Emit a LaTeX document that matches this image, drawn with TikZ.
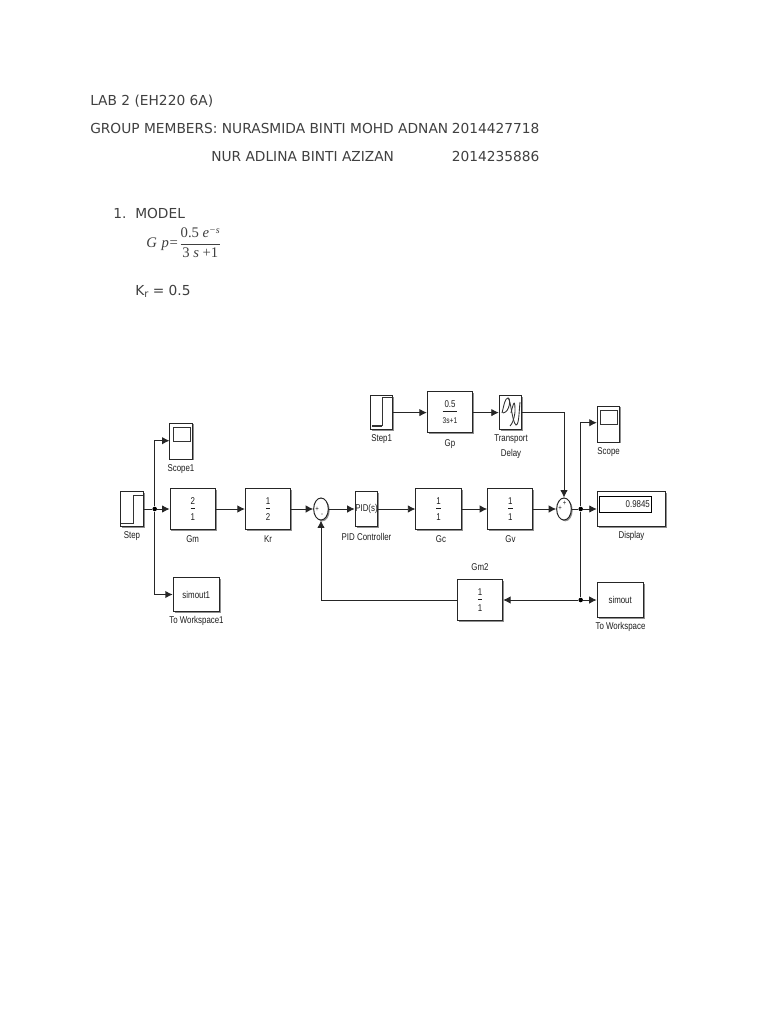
\documentclass[tikz,border=0pt]{standalone}
\usepackage{fontspec}
\setmainfont{DejaVu Sans}
\newfontfamily\labf[FakeStretch=0.8]{Liberation Sans}
\newfontfamily\eqf{Liberation Serif}
\usetikzlibrary{arrows.meta,shapes.geometric,shadows}
\definecolor{doc}{HTML}{404040}
\definecolor{lab}{HTML}{1E1E1E}
\newcommand{\frc}[2]{$\displaystyle\frac{\mbox{\rule[-1.8pt]{0pt}{6pt}#1}}{\mbox{\rule{0pt}{7.6pt}#2}}$}
\tikzset{
  doctext/.style={anchor=base west,inner sep=0pt,text=doc,font=\fontsize{10.32}{12}\selectfont},
  lbl/.style={inner sep=0pt,text=lab,font=\labf\fontsize{7.4}{8}\selectfont},
  blk/.style={draw=black!85,line width=.75pt,fill=white,inner sep=0pt,text=lab,font=\labf\fontsize{7.4}{8}\selectfont,
    drop shadow={shadow xshift=1pt,shadow yshift=-1pt,fill=black!55,opacity=.8}},
  gain/.style={blk,minimum width=34pt,minimum height=31pt},
  small/.style={blk,minimum width=17pt,minimum height=26pt},
  scopeb/.style={blk,minimum width=17pt,minimum height=27pt},
  sumb/.style={blk,ellipse,minimum width=11pt,minimum height=16.5pt},
  wire/.style={draw=black!85,line width=.65pt},
  arr/.style={wire,-{Latex[length=5.6pt,width=5.6pt]}},
  jn/.style={circle,fill=black,inner sep=0pt,minimum size=3.4pt},
  icon/.style={draw=black!80,line width=.65pt},
  tiny/.style={inner sep=0pt,text=lab,font=\labf\fontsize{5.6}{6}\selectfont}
}
\begin{document}
\begin{tikzpicture}[x=.75pt,y=-.75pt]
\useasboundingbox[fill=white] (0,0) rectangle (768,1024);
% document text
\node[doctext] (t1) at (90,105) {LAB 2 (EH220 6A)};
\node[doctext] (t2) at (90,133) {GROUP MEMBERS: NURASMIDA BINTI MOHD ADNAN};
\node[doctext] (t3) at (451.5,133) {2014427718};
\node[doctext] (t4) at (211,161) {NUR ADLINA BINTI AZIZAN};
\node[doctext] (t5) at (451.5,161) {2014235886};
\node[doctext] (t6) at (113,218) {1.};
\node[doctext] (t7) at (135,218) {MODEL};
\node[anchor=west,inner sep=0pt,text=doc,font=\eqf\fontsize{11}{12}\selectfont] (eq) at (146,243)
  {\textit{G\kern3.5pt p}\kern.5pt=\kern1pt\frc{0.5 \textit{e}\raisebox{3.5pt}{\fontsize{7.5}{8}\selectfont\textit{−s}}}{3 \textit{s} +1}};
\node[doctext] (kr) at (135,295) {K\raisebox{-1.5pt}{\fontsize{7.5}{9}\selectfont r} = 0.5};
% blocks
\node[small] (step) at (132,509) {};
\node[scopeb] (scope1) at (181.3,441) {};
\node[gain] (gm) at (192.7,509) {\frc{2}{1}};
\node[gain] (krb) at (268,509) {\frc{1}{2}};
\node[sumb] (sum1) at (321,509) {};
\node[small] (pid) at (366.5,509) {};
\node[gain] (gc) at (438.5,509) {\frc{1}{1}};
\node[gain] (gv) at (510.3,509) {\frc{1}{1}};
\node[sumb] (sum2) at (564,509) {};
\node[blk,minimum width=51.5pt,minimum height=26pt] (disp) at (631.6,509) {};
\node[draw=black,line width=.75pt,fill=white,minimum width=39pt,minimum height=12pt,inner sep=0pt,anchor=north west,text=lab,font=\labf\fontsize{7.4}{8}\selectfont] (dispv) at (599.3,496) {\hspace*{18pt}0.9845};
\node[scopeb] (scope) at (608.6,424) {};
\node[small] (step1) at (381.6,412.6) {};
\node[gain] (gp) at (450,412) {\frc{0.5}{\fontsize{6.2}{6}\selectfont 3s+1}};
\node[small] (td) at (510.6,412.6) {};
\node[gain] (gm2) at (480,600) {\frc{1}{1}};
\node[blk,minimum width=34.5pt,minimum height=26.5pt,line width=.9pt] (sim) at (620.2,600) {simout};
\node[blk,minimum width=34.5pt,minimum height=26pt] (sim1) at (196.3,594.5) {simout1};
% icon details
\draw[icon] (121,523) -- (133,523) -- (133,495) -- (143,495);
\draw[icon,line width=.9pt] (372,426) -- (382,426);
\draw[icon] (382,426) -- (382,397) -- (393,397);
\draw[icon] (173.3,427.3) rectangle (190.7,441.3);
\draw[icon] (600.5,410.5) rectangle (617.5,424);
\node[lbl] (pidt) at (366.5,508.5) {PID(s)};
\draw[icon] (502,413) .. controls (504,405) and (505,398) .. (508,398) .. controls (511,398) and (510,412) .. (503,413);
\draw[icon] (508,398) .. controls (511,400) and (512,422) .. (516,425) .. controls (519,425) and (519,412) .. (520,402);
\draw[icon] (511,413) .. controls (514,400) and (515,400) .. (515,412) .. controls (514,420) and (512,424) .. (510,426);
% sum signs
\node[tiny] (s1a) at (317,509) {+};
\node[tiny] (s1b) at (322,515) {-};
\node[tiny] (s2a) at (564.5,503) {+};
\node[tiny] (s2b) at (560,508.5) {+};
% junctions
\node[jn] (j1) at (154.7,509) {};
\node[jn] (j2) at (580.7,509) {};
\node[jn] (j3) at (580.7,600) {};
% connectors
\draw[wire] (step) -- (j1);
\draw[arr] (j1) -- (gm);
\draw[arr] (j1) |- (scope1.west |- 0,440.7);
\draw[arr,line width=1pt] (j1) |- (sim1);
\draw[arr] (gm) -- (krb);
\draw[arr] (krb) -- (sum1);
\draw[arr] (sum1) -- (pid);
\draw[arr] (pid) -- (gc);
\draw[arr] (gc) -- (gv);
\draw[arr] (gv) -- (sum2);
\draw[wire] (sum2) -- (j2);
\draw[arr] (j2) -- (disp);
\draw[arr] (j2) |- (scope.west |- 0,422.7);
\draw[wire] (j2) -- (j3);
\draw[arr] (j3) -- (sim);
\draw[arr] (j3) -- (gm2);
\draw[arr] (gm2) -| (sum1);
\draw[arr] (step1) -- (gp.west |- step1);
\draw[arr] (gp.east |- td) -- (td);
\draw[arr] (td) -| (sum2);
% labels
\node[lbl] (l1) at (132,536) {Step};
\node[lbl] (l2) at (181,469) {Scope1};
\node[lbl] (l3) at (192.7,539.5) {Gm};
\node[lbl] (l4) at (268,539.5) {Kr};
\node[lbl] (l5) at (366.5,537) {PID Controller};
\node[lbl] (l6) at (441,539.5) {Gc};
\node[lbl] (l7) at (510.5,539.5) {Gv};
\node[lbl] (l8) at (631.5,536) {Display};
\node[lbl] (l9) at (608.6,452) {Scope};
\node[lbl] (l10) at (381.6,439) {Step1};
\node[lbl] (l11) at (450,444) {Gp};
\node[lbl] (l12) at (511,439) {Transport};
\node[lbl] (l13) at (511,454) {Delay};
\node[lbl] (l14) at (480,567) {Gm2};
\node[lbl] (l15) at (620.5,627) {To Workspace};
\node[lbl] (l16) at (196.5,621) {To Workspace1};
\end{tikzpicture}
\end{document}
